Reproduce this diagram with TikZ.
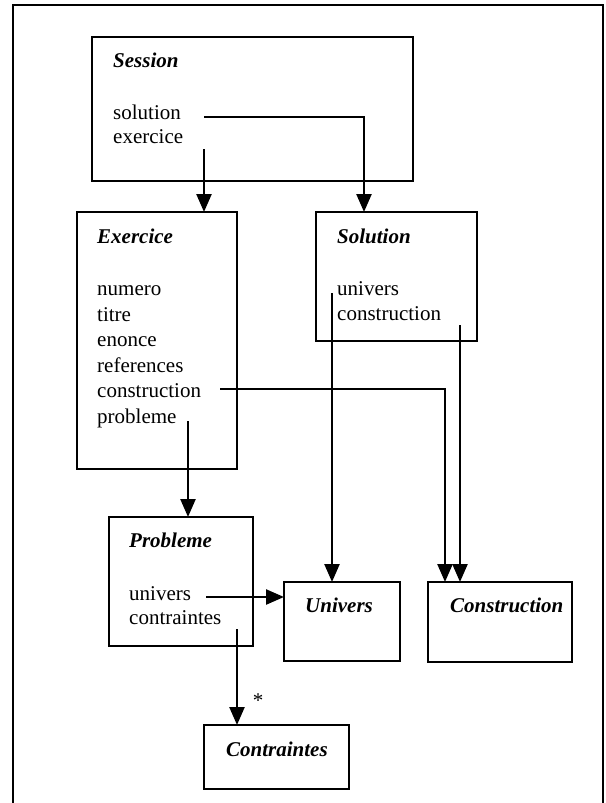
\documentclass[tikz,border=0pt]{standalone}
\usepackage{fontspec}
\setmainfont{Liberation Serif}
\usetikzlibrary{arrows.meta}
\begin{document}
\begin{tikzpicture}[x=1pt,y=-1pt,
  box/.style={draw, line width=2.6pt, inner sep=0pt, outer sep=0pt, anchor=north west},
  title/.style={anchor=base west, inner sep=0pt, font=\fontsize{21pt}{25pt}\selectfont\bfseries\itshape},
  attr/.style={anchor=base west, inner sep=0pt, font=\fontsize{21pt}{25pt}\selectfont},
  arr/.style={line width=2.4pt, -{Triangle[length=18pt,width=15pt]}},
  frameline/.style={line width=2.6pt}]
\useasboundingbox (0,0) rectangle (605,803);
\draw[frameline] (13,803) -- (13,5) -- (603,5) -- (603,803);

% boxes
\node[box, minimum width=321pt, minimum height=144pt] (session) at (92,37) {};
\node[box, minimum width=160pt, minimum height=257pt] (exercice) at (77,212) {};
\node[box, minimum width=161pt, minimum height=129pt] (solution) at (316,212) {};
\node[box, minimum width=144pt, minimum height=129pt] (probleme) at (109,517) {};
\node[box, minimum width=116pt, minimum height=79pt] (univers) at (284,582) {};
\node[box, minimum width=144pt, minimum height=80pt] (construction) at (428,582) {};
\node[box, minimum width=145pt, minimum height=64pt] (contraintes) at (204,725) {};

% titles
\node[title] (tSession) at (113,67) {Session};
\node[title] (tExercice) at (97,243) {Exercice};
\node[title] (tSolution) at (337,243) {Solution};
\node[title] (tProbleme) at (129,547) {Probleme};
\node[title] (tUnivers) at (305,612) {Univers};
\node[title] (tConstruction) at (450,612) {Construction};
\node[title] (tContraintes) at (226,756) {Contraintes};

% attributes
\node[attr] (sSolution) at (113,119) {solution};
\node[attr] (sExercice) at (113,143) {exercice};
\node[attr] (eNumero) at (97,295) {numero};
\node[attr] (eTitre) at (97,321) {titre};
\node[attr] (eEnonce) at (97,346) {enonce};
\node[attr] (eReferences) at (97,372) {references};
\node[attr] (eConstruction) at (97,397) {construction};
\node[attr] (eProbleme) at (97,423) {probleme};
\node[attr] (soUnivers) at (337,295) {univers};
\node[attr] (soConstruction) at (337,320) {construction};
\node[attr] (pUnivers) at (129,600) {univers};
\node[attr] (pContraintes) at (129,624) {contraintes};
\node[attr, anchor=base] (star) at (258,707) {*};

% connector start points
\coordinate (c1) at (204,117);
\coordinate (c2) at (204,149);
\coordinate (c3) at (220,389);
\coordinate (c4) at (188,421);
\coordinate (c5) at (332,293);
\coordinate (c6) at (460,325);
\coordinate (c7) at (206,597);
\coordinate (c8) at (237,629);

% connectors
\draw[arr] (c1) -| ([xshift=48pt]solution.north west);
\draw[arr] (c2) -- (c2 |- exercice.north);
\draw[arr] (c3) -| ([xshift=17pt]construction.north west);
\draw[arr] (c4) -- (c4 |- probleme.north);
\draw[arr] (c5) -- (c5 |- univers.north);
\draw[arr] (c6) -- (c6 |- construction.north);
\draw[arr] (c7) -- (c7 -| univers.west);
\draw[arr] (c8) -- (c8 |- contraintes.north);
\end{tikzpicture}
\end{document}
